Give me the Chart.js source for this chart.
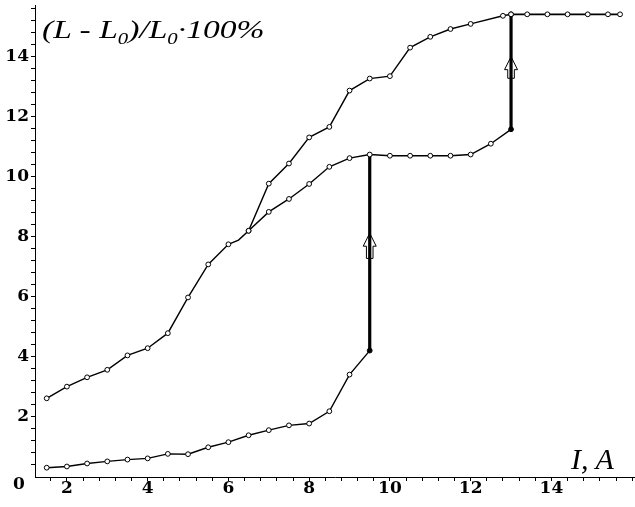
<!DOCTYPE html>
<html>
<head>
<meta charset="utf-8">
<script src="https://cdn.jsdelivr.net/npm/chart.js@4.4.0/dist/chart.umd.min.js"></script>
<style>
  html, body { margin: 0; padding: 0; background: #fff; }
  #wrap { position: relative; width: 635px; height: 507px; overflow: hidden; }
  #chart { position: absolute; left: 0; top: 0; }
  .lbl { position: absolute; font-family: "Liberation Serif", serif; font-style: italic; color: #000; white-space: nowrap; line-height: 1; }
  #ylab { left: 42px; top: 17px; font-size: 26px; transform: scaleX(1.29); transform-origin: 0 0; }
  #xlab { left: 571px; top: 444px; font-size: 30px; }
  .lbl sub { font-size: 0.62em; vertical-align: -0.35em; line-height: 0; }
</style>
</head>
<body>
<div id="wrap">
  <canvas id="chart" width="635" height="507"></canvas>
  <div class="lbl" id="ylab">(L - L<sub>0</sub>)/L<sub>0</sub>·100%</div>
  <div class="lbl" id="xlab">I, A</div>
</div>
<script>
// нижняя ветка (рост до первого скачка)
const xRise = [1.5, 2, 2.5, 3, 3.5, 4, 4.5, 5, 5.5, 6, 6.5, 7, 7.5, 8, 8.5, 9, 9.5];
const yRise = [0.31, 0.35, 0.45, 0.52, 0.58, 0.62, 0.77, 0.76, 0.99, 1.16, 1.39, 1.56, 1.72, 1.78, 2.19, 3.41, 4.21];

// средняя ветка (полка ~10.7)
const xMid = [6.5, 7, 7.5, 8, 8.5, 9, 9.5, 10, 10.5, 11, 11.5, 12, 12.5, 13];
const yMid = [8.2, 8.83, 9.26, 9.76, 10.33, 10.62, 10.74, 10.7, 10.7, 10.7, 10.7, 10.74, 11.1, 11.58];

// верхняя ветка
const xTop = [1.5, 2, 2.5, 3, 3.5, 4, 4.5, 5, 5.5, 6, 6.25, 6.5, 7, 7.5, 8, 8.5, 9, 9.5, 10, 10.5, 11, 11.5, 12, 12.8, 13];
const yTop = [2.62, 3.01, 3.32, 3.57, 4.05, 4.29, 4.79, 5.98, 7.08, 7.75, 7.89, 8.2, 9.77, 10.44, 11.31, 11.66, 12.87, 13.27, 13.35, 14.3, 14.66, 14.92, 15.09, 15.36, 15.41];

// верхняя полка
const xPlateau = [13, 13.4, 13.9, 14.4, 14.9, 15.4, 15.7];
const yPlateau = [15.41, 15.41, 15.41, 15.41, 15.41, 15.41, 15.41];

// скачки и стрелки
const jumpX = [9.5, 13];
const jumpFrom = [4.21, 11.58];
const jumpTo = [10.74, 15.41];
const arrowBase = [7.28, 13.28];
const arrowTip = [8.12, 14.0];

// подписи осей
const xTickLabels = [2, 4, 6, 8, 10, 12, 14];
const yTickLabels = [2, 4, 6, 8, 10, 12, 14];

const pts = (xs, ys) => xs.map((x, i) => ({ x: x, y: ys[i] }));

const tickFont = { family: '"DejaVu Serif", serif', weight: 'bold', size: 17 };

function minorTicks(scale, from, to) {
    const t = [];
    for (let k = from; k <= to; k++) t.push({ value: Math.round(k * 4) / 10 });
    scale.ticks = t;
}

function labelOf(list) {
    return function(v) {
        const hit = list.find(l => Math.abs(l - v) < 1e-6);
        return hit !== undefined ? String(hit) : '';
    };
}

function noPad(s) {
    s.paddingTop = 0; s.paddingBottom = 0; s.paddingLeft = 0; s.paddingRight = 0;
}

const base = {
    borderColor: '#000',
    borderWidth: 1.4,
    pointRadius: 2.4,
    pointBorderWidth: 1,
    pointBorderColor: '#000',
    pointBackgroundColor: '#fff',
    tension: 0,
    fill: false
};

const arrowPlugin = {
    id: 'arrows',
    beforeDatasetsDraw(chart) {
        const ctx = chart.ctx;
        const xs = chart.scales.x, ys = chart.scales.y;
        ctx.save();
        ctx.strokeStyle = '#000';
        ctx.fillStyle = '#fff';
        ctx.lineWidth = 1;
        jumpX.forEach((jx, i) => {
            const cx = xs.getPixelForValue(jx);
            const tip = ys.getPixelForValue(arrowTip[i]);
            const bot = ys.getPixelForValue(arrowBase[i]);
            const head = tip + 13, hw = 6.5, sw = 3.3;
            ctx.beginPath();
            ctx.moveTo(cx, tip);
            ctx.lineTo(cx + hw, head);
            ctx.lineTo(cx + sw, head);
            ctx.lineTo(cx + sw, bot);
            ctx.lineTo(cx - sw, bot);
            ctx.lineTo(cx - sw, head);
            ctx.lineTo(cx - hw, head);
            ctx.closePath();
            ctx.fill();
            ctx.stroke();
        });
        ctx.restore();
    },
    afterDraw(chart) {
        // подпись "0" у начала координат
        const ctx = chart.ctx;
        const ys = chart.scales.y;
        ctx.save();
        ctx.font = 'bold 17px "DejaVu Serif", serif';
        ctx.fillStyle = '#000';
        ctx.textAlign = 'center';
        ctx.textBaseline = 'middle';
        ctx.fillText('0', 19, ys.getPixelForValue(0) + 8);
        ctx.restore();
    }
};

new Chart(document.getElementById('chart'), {
    type: 'line',
    data: {
        datasets: [
            Object.assign({}, base, { data: pts(xRise, yRise),
                pointBackgroundColor: c => c.dataIndex === xRise.length - 1 ? '#000' : '#fff' }),
            Object.assign({}, base, { data: pts(xMid, yMid),
                pointBackgroundColor: c => c.dataIndex === xMid.length - 1 ? '#000' : '#fff' }),
            Object.assign({}, base, { data: pts(xTop, yTop),
                pointRadius: c => xTop[c.dataIndex] === 6.25 ? 0 : 2.4 }),
            Object.assign({}, base, { data: pts(xPlateau, yPlateau), borderWidth: 1.8 }),
            Object.assign({}, base, { data: pts([jumpX[0], jumpX[0]], [jumpFrom[0], jumpTo[0]]), borderWidth: 3.2, pointRadius: 0 }),
            Object.assign({}, base, { data: pts([jumpX[1], jumpX[1]], [jumpFrom[1], jumpTo[1]]), borderWidth: 3.2, pointRadius: 0 })
        ]
    },
    options: {
        responsive: false,
        animation: false,
        layout: { autoPadding: false, padding: { top: 5, right: 0, left: 0, bottom: 0 } },
        plugins: { legend: { display: false }, tooltip: { enabled: false } },
        scales: {
            x: {
                type: 'linear',
                min: 1.21,
                max: 16.07,
                afterBuildTicks: s => minorTicks(s, 4, 40),
                afterFit: s => { s.height = 30; noPad(s); },
                ticks: { autoSkip: false, maxRotation: 0, padding: -3, color: '#000', font: tickFont, callback: labelOf(xTickLabels) },
                grid: { drawOnChartArea: false, drawTicks: true, tickLength: 4, tickColor: '#000', tickWidth: 1 },
                border: { display: true, color: '#000', width: 1 }
            },
            y: {
                min: 0,
                max: 15.72,
                afterBuildTicks: s => minorTicks(s, 1, 39),
                afterFit: s => { s.width = 35; noPad(s); },
                ticks: { autoSkip: false, padding: 2, color: '#000', font: tickFont, callback: labelOf(yTickLabels) },
                grid: { drawOnChartArea: false, drawTicks: true, tickLength: 4, tickColor: '#000', tickWidth: 1 },
                border: { display: true, color: '#000', width: 1 }
            }
        }
    },
    plugins: [arrowPlugin]
});
</script>
</body>
</html>
